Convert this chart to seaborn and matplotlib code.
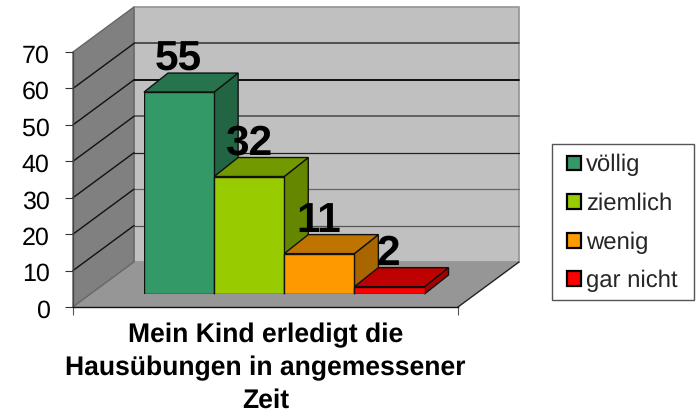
import matplotlib
matplotlib.use("Agg")
import matplotlib.pyplot as plt
from matplotlib.patches import Polygon, Rectangle
from matplotlib.colors import to_rgb
from matplotlib.transforms import ScaledTranslation
import seaborn as sns
import pandas as pd

categories = ["völlig", "ziemlich", "wenig", "gar nicht"]
values = [55, 32, 11, 2]
colors = ["#339966", "#99CC00", "#FF9900", "#FF0000"]
yticks = [0, 10, 20, 30, 40, 50, 60, 70]
axis_title = "Mein Kind erledigt die\nHausübungen in angemessener\nZeit"

sns.set_theme(style="white")
plt.rcParams["font.family"] = ["Liberation Sans", "DejaVu Sans"]
plt.rcParams["text.hinting"] = "none"

W, H = 696, 412
fig = plt.figure(figsize=(W / 100, H / 100), dpi=100)


def place(left, right, bottom, top):
    return [left / W, 1 - bottom / H, (right - left) / W, (bottom - top) / H]


# front plane of the chart box
ax = fig.add_axes(place(73, 458, 307, 52))
ax.set_xlim(0, 1)
ax.set_ylim(0, 70)
ax.patch.set_alpha(0)
DX = 61 / 385
DY = 45 / (255 / 70)

ax.add_patch(Polygon([(DX, DY), (1 + DX, DY), (1 + DX, 70 + DY), (DX, 70 + DY)],
                     closed=True, fc="#C0C0C0", ec="#949494", lw=1.2, clip_on=False, zorder=0.2))
ax.add_patch(Polygon([(0, 0), (DX, DY), (DX, 70 + DY), (0, 70)],
                     closed=True, fc="#808080", ec="#666666", lw=1.0, clip_on=False, zorder=0.3))
ax.add_patch(Polygon([(0, 0), (1, 0), (1 + DX, DY), (DX, DY)],
                     closed=True, fc="#969696", ec="none", clip_on=False, zorder=0.3))
grid_styles = {10: ("#555555", 0.9), 20: ("#666666", 0.9), 30: ("#222222", 0.9),
               40: ("#505050", 1.2), 50: ("#000000", 1.3), 60: ("#303030", 1.1)}
for v in yticks[1:-1]:
    gc, glw = grid_styles[v]
    ax.plot([DX, 1 + DX], [v + DY, v + DY], color=gc, lw=glw, clip_on=False, zorder=0.4)
    ax.plot([0, DX], [v, v + DY], color="#111111", lw=1.0, clip_on=False, zorder=0.4)
ax.plot([1, 1 + DX], [0, DY], color="#222222", lw=1.0, clip_on=False, zorder=0.5)
ax.plot([0, DX], [0, DY], color="#666666", lw=0.8, clip_on=False, zorder=0.5)

for s in ["top", "right"]:
    ax.spines[s].set_visible(False)
ax.spines["left"].set_color("#444444")
ax.spines["left"].set_linewidth(0.9)
ax.spines["bottom"].set_color("#111111")
ax.spines["bottom"].set_linewidth(1.0)
ax.set_yticks(yticks)
ax.set_xticks([0, 1])
ax.set_xticklabels([])
ax.tick_params(axis="y", left=True, length=5.8, width=0.8, color="#333333",
               pad=11, labelsize=18, labelcolor="black")
ax.tick_params(axis="x", bottom=True, length=5.8, width=0.8, color="#555555")
shift = ScaledTranslation(0, -1.5 / 100, fig.dpi_scale_trans)
for t in ax.get_yticklabels():
    t.set_transform(t.get_transform() + shift)
fig.text(265.5 / W, 1 - 368 / H, axis_title, ha="center", va="center", fontsize=19.1,
         fontweight="bold", color="black", linespacing=1.36)

# plane of the bars
bx = fig.add_axes(place(144, 424.5, 294, 37))
bx.patch.set_alpha(0)
df = pd.DataFrame({"category": categories, "value": values})
sns.barplot(data=df, x="category", y="value", hue="category", order=categories,
            hue_order=categories, palette=colors, width=1.0, saturation=1,
            dodge=False, legend=False, edgecolor="#111111", linewidth=1.0, ax=bx)
bx.set_xlim(-0.5, 3.5)
bx.set_ylim(0, 70)
bx.set_axis_off()
handles = [p for p in bx.patches if isinstance(p, Rectangle) and p.get_height() > 0][:4]

bdx = 24 / (280.5 / 4)
bdy = 19 / (257 / 70)


def shade(c, k):
    return tuple(x * k for x in to_rgb(c))


for i, (v, c) in enumerate(zip(values, colors)):
    l, r = i - 0.5, i + 0.5
    bx.add_patch(Polygon([(r, 0), (r + bdx, bdy), (r + bdx, v + bdy), (r, v)], closed=True,
                         fc=shade(c, 0.66), ec="#111111", lw=1.0, clip_on=False, zorder=0.5))
    bx.add_patch(Polygon([(l, v), (r, v), (r + bdx, v + bdy), (l + bdx, v + bdy)], closed=True,
                         fc=shade(c, 0.75), ec="#111111", lw=1.0, clip_on=False, zorder=0.5))
    bx.annotate(str(v), (i, v), xytext=(-0.7, 21.5 * 0.72), textcoords="offset points",
                ha="center", va="baseline", fontsize=30.5, fontweight="bold",
                color="black", zorder=5, annotation_clip=False)

fig.add_artist(Rectangle((552 / W, 1 - 300 / H), 142 / W, 156 / H, transform=fig.transFigure,
                         fc="white", ec="#555555", lw=1.0, zorder=1))
leg = fig.legend(handles, categories, loc="upper left",
                 bbox_to_anchor=(567 / W, 1 - 154 / H), bbox_transform=fig.transFigure,
                 fontsize=17.2, frameon=False, handlelength=0.58, handleheight=0.58,
                 handletextpad=0.2, labelspacing=0.68, borderaxespad=0, borderpad=0)
for h in leg.legend_handles:
    h.set_edgecolor("black")
    h.set_linewidth(1.6)

fig.savefig("out.png", dpi=100)
